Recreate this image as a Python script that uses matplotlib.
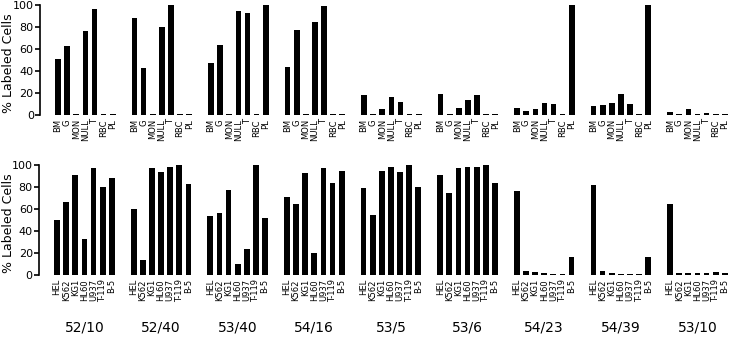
# Percent labeled cells per antibody, blood cells (top) and cell lines (bottom)
import numpy as np
import matplotlib
matplotlib.use('Agg')
import matplotlib.pyplot as plt
from matplotlib.transforms import blended_transform_factory

antibodies = ['52/10', '52/40', '53/40', '54/16', '53/5', '53/6', '54/23', '54/39', '53/10']
blood_cells = ['BM', 'G', 'MON', 'NULL', 'T', 'RBC', 'PL']
cell_lines = ['HEL', 'K562', 'KG1', 'HL60', 'U937', 'T-119', 'B-5']

# one row per antibody
blood_vals = [
    [51, 63, 1, 76, 96, 1, 1],
    [88, 43, 1, 80, 100, 1, 1],
    [47, 64, 1, 95, 93, 1, 100],
    [44, 77, 1, 85, 99, 1, 1],
    [18, 1, 5, 16, 12, 1, 1],
    [19, 1, 6, 14, 18, 1, 1],
    [6, 4, 5, 11, 10, 1, 100],
    [8, 9, 11, 19, 10, 1, 100],
    [3, 1, 5, 1, 2, 1, 1],
]
line_vals = [
    [50, 66, 91, 33, 97, 80, 88],
    [60, 14, 97, 94, 98, 100, 83],
    [54, 56, 77, 10, 24, 100, 52],
    [71, 65, 93, 20, 97, 84, 95],
    [79, 55, 95, 98, 94, 100, 80],
    [91, 75, 97, 98, 98, 100, 84],
    [76, 4, 3, 2, 1, 1, 16],
    [82, 4, 2, 1, 1, 1, 16],
    [65, 2, 2, 2, 2, 3, 2],
]

gap = 8.4   # panel spacing in bar units
W, H = 729, 356
fig = plt.figure(figsize=(W / 100, H / 100), dpi=100)

def px_axes(left, top, bottom):
    return fig.add_axes([left / W, (H - bottom) / H, (W - left) / W, (bottom - top) / H])

def draw_row(ax, vals, cats, left):
    xs, hs, labels = [], [], []
    for i, row in enumerate(vals):
        for j, v in enumerate(row):
            xs.append(i * gap + j)
            hs.append(v)
            labels.append(cats[j])
    ax.bar(xs, hs, width=0.62, color='black')
    ax.set_xlim(-1.98, 73.66)
    ax.set_ylim(0, 100)
    ax.set_xticks(xs)
    ax.set_xticklabels(labels, rotation=90, fontsize=6, va='top')
    ax.tick_params(axis='x', length=0, pad=3)
    ax.set_yticks(np.arange(0, 101, 20))
    ax.tick_params(axis='y', direction='out', length=3.5, width=1.2, labelsize=8, pad=1)
    for s in ['top', 'right', 'bottom']:
        ax.spines[s].set_visible(False)
    ax.spines['left'].set_linewidth(1.2)
    ax.set_ylabel('% Labeled Cells', fontsize=9, va='center')
    ax.yaxis.set_label_coords((9 - left) / (W - left), 0.47)
    ax.patch.set_alpha(0)

ax1 = px_axes(40, 5, 115)
draw_row(ax1, blood_vals, blood_cells, 40)
ax2 = px_axes(39, 165, 275)
draw_row(ax2, line_vals, cell_lines, 39)

tr = blended_transform_factory(ax2.transData, ax2.transAxes)
for i, name in enumerate(antibodies):
    ax2.text(i * gap + 3, -0.48, name, transform=tr, ha='center', va='center', fontsize=10)

fig.savefig('out.png', dpi=100)
